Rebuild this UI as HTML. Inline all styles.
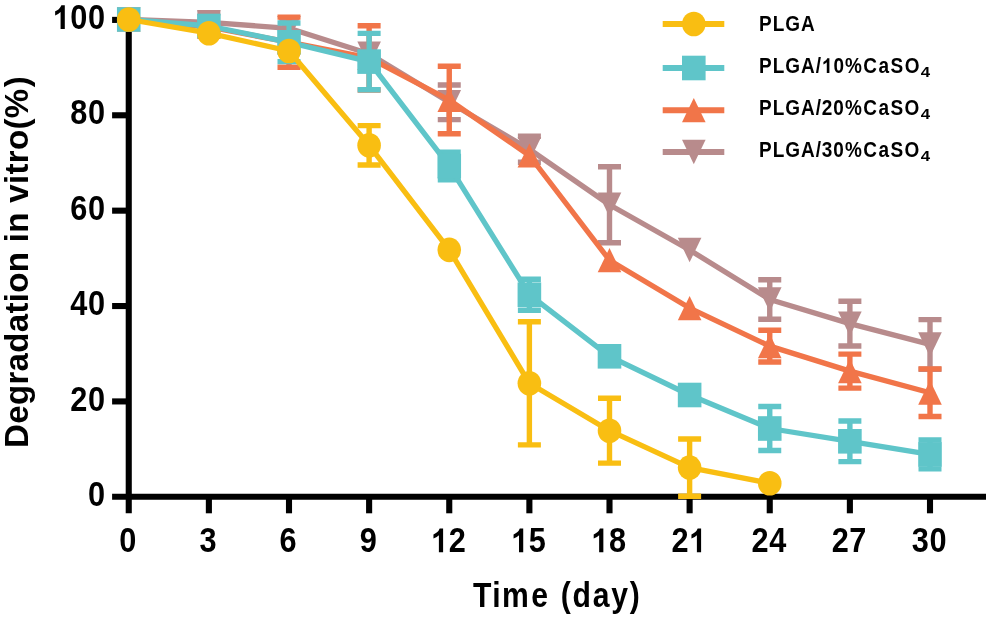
<!DOCTYPE html>
<html><head><meta charset="utf-8"><title>Degradation in vitro</title>
<style>
html,body{margin:0;padding:0;background:#fff;}
body{width:990px;height:618px;overflow:hidden;font-family:"Liberation Sans",sans-serif;}
svg{display:block;filter:blur(0.5px);}
</style></head><body>
<svg width="990" height="618" viewBox="0 0 990 618">
<rect width="990" height="618" fill="#fff"/>
<g stroke="#000" stroke-width="6.1" fill="none">
<path d="M128.75 16.9V513.3"/>
<path d="M112.1 496.8H986"/>
<path d="M208.88 496.8V513.3"/>
<path d="M289.00 496.8V513.3"/>
<path d="M369.12 496.8V513.3"/>
<path d="M449.25 496.8V513.3"/>
<path d="M529.38 496.8V513.3"/>
<path d="M609.50 496.8V513.3"/>
<path d="M689.62 496.8V513.3"/>
<path d="M769.75 496.8V513.3"/>
<path d="M849.88 496.8V513.3"/>
<path d="M930.00 496.8V513.3"/>
<path d="M112.1 401.42H128.75"/>
<path d="M112.1 306.04H128.75"/>
<path d="M112.1 210.66H128.75"/>
<path d="M112.1 115.28H128.75"/>
<path d="M112.1 19.90H128.75"/>
</g>
<g font-family="'Liberation Sans', sans-serif" font-weight="bold" fill="#000">
<g transform="translate(105.60,505.95) scale(0.93,1.043)" font-size="33px"><text x="-18.953" y="0">0</text></g>
<g transform="translate(105.60,410.57) scale(0.93,1.043)" font-size="33px"><text x="-37.906" y="0">2</text><text x="-18.953" y="0">0</text></g>
<g transform="translate(105.60,315.19) scale(0.93,1.043)" font-size="33px"><text x="-37.906" y="0">4</text><text x="-18.953" y="0">0</text></g>
<g transform="translate(105.60,219.81) scale(0.93,1.043)" font-size="33px"><text x="-37.906" y="0">6</text><text x="-18.953" y="0">0</text></g>
<g transform="translate(105.60,124.43) scale(0.93,1.043)" font-size="33px"><text x="-37.906" y="0">8</text><text x="-18.953" y="0">0</text></g>
<g transform="translate(105.60,29.05) scale(0.93,1.043)" font-size="33px"><path transform="translate(-56.859,0) scale(0.016113,-0.015437)" d="M806 0H525V1059Q371 915 162 846V1101Q272 1137 401 1237.5Q530 1338 578 1472H806Z"/><text x="-37.906" y="0">0</text><text x="-18.953" y="0">0</text></g>
<g transform="translate(128.15,552.20) scale(0.93,1.043)" font-size="33px"><text x="-9.477" y="0">0</text></g>
<g transform="translate(208.28,552.20) scale(0.93,1.043)" font-size="33px"><text x="-9.477" y="0">3</text></g>
<g transform="translate(288.40,552.20) scale(0.93,1.043)" font-size="33px"><text x="-9.477" y="0">6</text></g>
<g transform="translate(368.52,552.20) scale(0.93,1.043)" font-size="33px"><text x="-9.477" y="0">9</text></g>
<g transform="translate(448.65,552.20) scale(0.93,1.043)" font-size="33px"><path transform="translate(-18.953,0) scale(0.016113,-0.015437)" d="M806 0H525V1059Q371 915 162 846V1101Q272 1137 401 1237.5Q530 1338 578 1472H806Z"/><text x="0.000" y="0">2</text></g>
<g transform="translate(528.77,552.20) scale(0.93,1.043)" font-size="33px"><path transform="translate(-18.953,0) scale(0.016113,-0.015437)" d="M806 0H525V1059Q371 915 162 846V1101Q272 1137 401 1237.5Q530 1338 578 1472H806Z"/><text x="0.000" y="0">5</text></g>
<g transform="translate(608.90,552.20) scale(0.93,1.043)" font-size="33px"><path transform="translate(-18.953,0) scale(0.016113,-0.015437)" d="M806 0H525V1059Q371 915 162 846V1101Q272 1137 401 1237.5Q530 1338 578 1472H806Z"/><text x="0.000" y="0">8</text></g>
<g transform="translate(689.02,552.20) scale(0.93,1.043)" font-size="33px"><text x="-18.953" y="0">2</text><path transform="translate(0.000,0) scale(0.016113,-0.015437)" d="M806 0H525V1059Q371 915 162 846V1101Q272 1137 401 1237.5Q530 1338 578 1472H806Z"/></g>
<g transform="translate(769.15,552.20) scale(0.93,1.043)" font-size="33px"><text x="-18.953" y="0">2</text><text x="0.000" y="0">4</text></g>
<g transform="translate(849.27,552.20) scale(0.93,1.043)" font-size="33px"><text x="-18.953" y="0">2</text><text x="0.000" y="0">7</text></g>
<g transform="translate(929.40,552.20) scale(0.93,1.043)" font-size="33px"><text x="-18.953" y="0">3</text><text x="0.000" y="0">0</text></g>
<text transform="translate(557.20,606.60) scale(0.9,1.05)" font-size="33.5px" letter-spacing="1.95" text-anchor="middle">T<tspan dx="-0.9">i</tspan><tspan dx="-0.6">m</tspan><tspan dx="0.9">e</tspan><tspan dx="0.9"> </tspan>(day)</text>
<text transform="translate(27.70,261.90) rotate(-90) scale(0.98,1.0)" font-size="33.7px" letter-spacing="0.33" text-anchor="middle">Degradation in vitro(%<tspan dx="1.4">)</tspan></text>
</g>
<path d="M208.88 12.75V32.05M197.38 12.75H220.38M197.38 32.05H220.38" stroke="#B88B8C" stroke-width="5.4" fill="none"/>
<path d="M449.25 85.00V119.60M437.75 85.00H460.75M437.75 119.60H460.75" stroke="#B88B8C" stroke-width="5.4" fill="none"/>
<path d="M529.38 136.30V162.30M517.88 136.30H540.88M517.88 162.30H540.88" stroke="#B88B8C" stroke-width="5.4" fill="none"/>
<path d="M609.50 166.70V242.70M598.00 166.70H621.00M598.00 242.70H621.00" stroke="#B88B8C" stroke-width="5.4" fill="none"/>
<path d="M769.75 279.70V319.30M758.25 279.70H781.25M758.25 319.30H781.25" stroke="#B88B8C" stroke-width="5.4" fill="none"/>
<path d="M849.88 301.20V346.00M838.38 301.20H861.38M838.38 346.00H861.38" stroke="#B88B8C" stroke-width="5.4" fill="none"/>
<path d="M930.00 319.60V369.20M918.50 319.60H941.50M918.50 369.20H941.50" stroke="#B88B8C" stroke-width="5.4" fill="none"/>
<polyline points="128.75,19.50 208.88,22.40 289.00,28.30 369.12,53.80 449.25,102.30 529.38,149.30 609.50,204.70 689.62,250.00 769.75,299.50 849.88,323.60 930.00,344.40" fill="none" stroke="#B88B8C" stroke-width="5.3" stroke-linejoin="round"/>
<polygon points="128.75,31.80 140.55,7.30 116.95,7.30" fill="#B88B8C"/>
<polygon points="208.88,34.70 220.68,10.20 197.07,10.20" fill="#B88B8C"/>
<polygon points="289.00,40.60 300.80,16.10 277.20,16.10" fill="#B88B8C"/>
<polygon points="369.12,66.10 380.93,41.60 357.32,41.60" fill="#B88B8C"/>
<polygon points="449.25,114.60 461.05,90.10 437.45,90.10" fill="#B88B8C"/>
<polygon points="529.38,161.60 541.17,137.10 517.58,137.10" fill="#B88B8C"/>
<polygon points="609.50,217.00 621.30,192.50 597.70,192.50" fill="#B88B8C"/>
<polygon points="689.62,262.30 701.42,237.80 677.83,237.80" fill="#B88B8C"/>
<polygon points="769.75,311.80 781.55,287.30 757.95,287.30" fill="#B88B8C"/>
<polygon points="849.88,335.90 861.67,311.40 838.08,311.40" fill="#B88B8C"/>
<polygon points="930.00,356.70 941.80,332.20 918.20,332.20" fill="#B88B8C"/>
<path d="M289.00 17.10V67.30M277.50 17.10H300.50M277.50 67.30H300.50" stroke="#F17549" stroke-width="5.4" fill="none"/>
<path d="M369.12 25.80V90.00M357.62 25.80H380.62M357.62 90.00H380.62" stroke="#F17549" stroke-width="5.4" fill="none"/>
<path d="M449.25 66.25V133.75M437.75 66.25H460.75M437.75 133.75H460.75" stroke="#F17549" stroke-width="5.4" fill="none"/>
<path d="M769.75 330.30V362.00M758.25 330.30H781.25M758.25 362.00H781.25" stroke="#F17549" stroke-width="5.4" fill="none"/>
<path d="M849.88 354.10V388.10M838.38 354.10H861.38M838.38 388.10H861.38" stroke="#F17549" stroke-width="5.4" fill="none"/>
<path d="M930.00 368.90V416.50M918.50 368.90H941.50M918.50 416.50H941.50" stroke="#F17549" stroke-width="5.4" fill="none"/>
<polyline points="128.75,19.50 208.88,27.00 289.00,42.20 369.12,57.90 449.25,100.00 529.38,155.50 609.50,260.20 689.62,308.10 769.75,346.15 849.88,371.10 930.00,392.70" fill="none" stroke="#F17549" stroke-width="5.3" stroke-linejoin="round"/>
<polygon points="128.75,7.40 140.55,31.60 116.95,31.60" fill="#F17549"/>
<polygon points="208.88,14.90 220.68,39.10 197.07,39.10" fill="#F17549"/>
<polygon points="289.00,30.10 300.80,54.30 277.20,54.30" fill="#F17549"/>
<polygon points="369.12,45.80 380.93,70.00 357.32,70.00" fill="#F17549"/>
<polygon points="449.25,87.90 461.05,112.10 437.45,112.10" fill="#F17549"/>
<polygon points="529.38,143.40 541.17,167.60 517.58,167.60" fill="#F17549"/>
<polygon points="609.50,248.10 621.30,272.30 597.70,272.30" fill="#F17549"/>
<polygon points="689.62,296.00 701.42,320.20 677.83,320.20" fill="#F17549"/>
<polygon points="769.75,334.05 781.55,358.25 757.95,358.25" fill="#F17549"/>
<polygon points="849.88,359.00 861.67,383.20 838.08,383.20" fill="#F17549"/>
<polygon points="930.00,380.60 941.80,404.80 918.20,404.80" fill="#F17549"/>
<path d="M289.00 23.00V61.60M277.50 23.00H300.50M277.50 61.60H300.50" stroke="#5FC5C9" stroke-width="5.4" fill="none"/>
<path d="M369.12 33.40V89.80M357.62 33.40H380.62M357.62 89.80H380.62" stroke="#5FC5C9" stroke-width="5.4" fill="none"/>
<path d="M449.25 152.30V179.90M437.75 152.30H460.75M437.75 179.90H460.75" stroke="#5FC5C9" stroke-width="5.4" fill="none"/>
<path d="M529.38 279.20V310.20M517.88 279.20H540.88M517.88 310.20H540.88" stroke="#5FC5C9" stroke-width="5.4" fill="none"/>
<path d="M769.75 406.50V450.50M758.25 406.50H781.25M758.25 450.50H781.25" stroke="#5FC5C9" stroke-width="5.4" fill="none"/>
<path d="M849.88 421.00V461.60M838.38 421.00H861.38M838.38 461.60H861.38" stroke="#5FC5C9" stroke-width="5.4" fill="none"/>
<path d="M930.00 439.90V468.90M918.50 439.90H941.50M918.50 468.90H941.50" stroke="#5FC5C9" stroke-width="5.4" fill="none"/>
<polyline points="128.75,19.50 208.88,26.00 289.00,42.30 369.12,61.60 449.25,166.10 529.38,294.70 609.50,356.30 689.62,395.00 769.75,428.50 849.88,441.30 930.00,454.40" fill="none" stroke="#5FC5C9" stroke-width="5.3" stroke-linejoin="round"/>
<rect x="116.95" y="7.20" width="23.6" height="24.6" fill="#5FC5C9"/>
<rect x="197.07" y="13.70" width="23.6" height="24.6" fill="#5FC5C9"/>
<rect x="277.20" y="30.00" width="23.6" height="24.6" fill="#5FC5C9"/>
<rect x="357.32" y="49.30" width="23.6" height="24.6" fill="#5FC5C9"/>
<rect x="437.45" y="153.80" width="23.6" height="24.6" fill="#5FC5C9"/>
<rect x="517.58" y="282.40" width="23.6" height="24.6" fill="#5FC5C9"/>
<rect x="597.70" y="344.00" width="23.6" height="24.6" fill="#5FC5C9"/>
<rect x="677.83" y="382.70" width="23.6" height="24.6" fill="#5FC5C9"/>
<rect x="757.95" y="416.20" width="23.6" height="24.6" fill="#5FC5C9"/>
<rect x="838.08" y="429.00" width="23.6" height="24.6" fill="#5FC5C9"/>
<rect x="918.20" y="442.10" width="23.6" height="24.6" fill="#5FC5C9"/>
<path d="M369.12 125.60V165.00M357.62 125.60H380.62M357.62 165.00H380.62" stroke="#F9BE12" stroke-width="5.4" fill="none"/>
<path d="M529.38 321.70V444.90M517.88 321.70H540.88M517.88 444.90H540.88" stroke="#F9BE12" stroke-width="5.4" fill="none"/>
<path d="M609.50 398.30V463.10M598.00 398.30H621.00M598.00 463.10H621.00" stroke="#F9BE12" stroke-width="5.4" fill="none"/>
<path d="M689.62 439.00V496.20M678.12 439.00H701.12M678.12 496.20H701.12" stroke="#F9BE12" stroke-width="5.4" fill="none"/>
<polyline points="128.75,19.50 208.88,33.20 289.00,51.00 369.12,145.30 449.25,249.90 529.38,383.30 609.50,430.70 689.62,467.60 769.75,483.20" fill="none" stroke="#F9BE12" stroke-width="5.3" stroke-linejoin="round"/>
<ellipse cx="128.75" cy="19.50" rx="11.8" ry="12.3" fill="#F9BE12"/>
<ellipse cx="208.88" cy="33.20" rx="11.8" ry="12.3" fill="#F9BE12"/>
<ellipse cx="289.00" cy="51.00" rx="11.8" ry="12.3" fill="#F9BE12"/>
<ellipse cx="369.12" cy="145.30" rx="11.8" ry="12.3" fill="#F9BE12"/>
<ellipse cx="449.25" cy="249.90" rx="11.8" ry="12.3" fill="#F9BE12"/>
<ellipse cx="529.38" cy="383.30" rx="11.8" ry="12.3" fill="#F9BE12"/>
<ellipse cx="609.50" cy="430.70" rx="11.8" ry="12.3" fill="#F9BE12"/>
<ellipse cx="689.62" cy="467.60" rx="11.8" ry="12.3" fill="#F9BE12"/>
<ellipse cx="769.75" cy="483.20" rx="11.8" ry="12.3" fill="#F9BE12"/>
<g font-family="'Liberation Sans', sans-serif" font-weight="bold" fill="#000">
<path d="M662.7 24H724.3" stroke="#F9BE12" stroke-width="5.9"/>
<ellipse cx="693.80" cy="24.00" rx="11.8" ry="12.3" fill="#F9BE12"/>
<text transform="translate(759.10,31.00) scale(0.95,1.07)" font-size="20px" letter-spacing="1.0" text-anchor="start">PLGA</text>
<path d="M662.7 68H724.3" stroke="#5FC5C9" stroke-width="5.9"/>
<rect x="682.00" y="55.70" width="23.6" height="24.6" fill="#5FC5C9"/>
<text transform="translate(920.70,76.90) scale(1.1,1.0)" font-size="15.3px" letter-spacing="0" text-anchor="start">4</text>
<g transform="translate(759.1,72.9) scale(0.95,1.07)" font-size="20px" letter-spacing="1.0"><text x="0" y="0">PLGA/</text><path transform="translate(66.120,0) scale(0.009766,-0.009355)" d="M806 0H525V1059Q371 915 162 846V1101Q272 1137 401 1237.5Q530 1338 578 1472H806Z"/><text x="78.243" y="0">0<tspan letter-spacing="1.55">%CaSO</tspan></text></g>
<path d="M662.7 110.2H724.3" stroke="#F17549" stroke-width="5.9"/>
<polygon points="693.80,98.10 705.60,122.30 682.00,122.30" fill="#F17549"/>
<text transform="translate(920.70,118.50) scale(1.1,1.0)" font-size="15.3px" letter-spacing="0" text-anchor="start">4</text>
<text transform="translate(759.10,114.50) scale(0.95,1.07)" font-size="20px" letter-spacing="1.0" text-anchor="start">PLGA/20<tspan letter-spacing="1.55">%CaSO</tspan></text>
<path d="M662.7 152H724.3" stroke="#B88B8C" stroke-width="5.9"/>
<polygon points="693.80,164.30 705.60,139.80 682.00,139.80" fill="#B88B8C"/>
<text transform="translate(920.70,160.60) scale(1.1,1.0)" font-size="15.3px" letter-spacing="0" text-anchor="start">4</text>
<text transform="translate(759.10,156.60) scale(0.95,1.07)" font-size="20px" letter-spacing="1.0" text-anchor="start">PLGA/30<tspan letter-spacing="1.55">%CaSO</tspan></text>
</g>
</svg>
</body></html>
